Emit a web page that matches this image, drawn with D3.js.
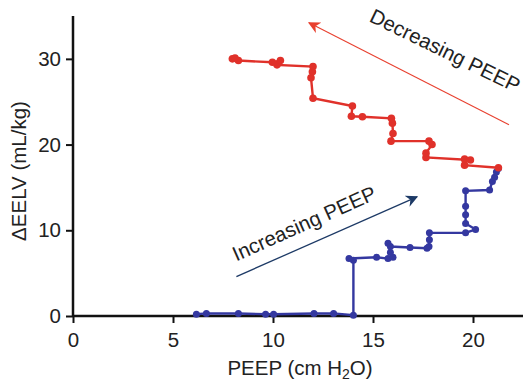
<!doctype html>
<html>
<head>
    <script src="https://d3js.org/d3.v7.min.js"></script>
    <style>
        body { margin: 0; background: #fff; }
        text { font-family: "Liberation Sans", Arial, sans-serif; fill: #222; }
    </style>
</head>
<body>
    <svg width="523" height="384"></svg>
    <script>
        // increasing PEEP (blue)
        var incX = [6.17, 6.67, 8.27, 9.63, 10.03, 12.05, 13.03, 14.02, 14.02, 13.8, 15.18, 15.75, 16.0, 15.87, 15.75, 15.87, 16.85, 17.7, 17.8, 17.82, 17.82, 19.63, 20.13, 19.63, 19.63, 19.63, 19.63, 20.83, 20.97, 21.08, 21.17, 21.27];
        var incY = [0.2, 0.3, 0.3, 0.2, 0.2, 0.3, 0.3, 0.1, 6.5, 6.7, 6.85, 6.7, 6.85, 7.4, 8.5, 8.1, 8.0, 7.9, 8.1, 8.9, 9.7, 9.7, 10.1, 10.8, 11.8, 12.8, 14.6, 14.7, 15.7, 16.2, 16.8, 17.2];

        // decreasing PEEP (red)
        var decX = [21.27, 19.58, 19.58, 19.87, 17.65, 17.65, 17.95, 17.8, 15.9, 16.0, 15.97, 15.92, 14.47, 13.92, 13.97, 12.0, 11.9, 11.97, 12.0, 10.2, 10.37, 9.97, 8.27, 7.97, 8.1];
        var decY = [17.3, 17.6, 18.3, 18.2, 18.5, 19.0, 20.0, 20.4, 20.4, 21.3, 22.5, 23.06, 23.25, 23.3, 24.5, 25.4, 27.8, 28.5, 29.1, 29.3, 29.8, 29.6, 29.8, 30.0, 30.1];

        var xTicks = [0, 5, 10, 15, 20];
        var yTicks = [0, 10, 20, 30];

        var svg = d3.select("svg");
        var x = d3.scaleLinear().domain([0, 22.5]).range([73, 523]);
        var y = d3.scaleLinear().domain([0, 35]).range([316, 16]);

        var red = "#e0312a", blue = "#3438a0";

        var inc = incX.map(function(d, i) { return [d, incY[i]]; });
        var dec = decX.map(function(d, i) { return [d, decY[i]]; });

        var line = d3.line().x(function(d) { return x(d[0]); }).y(function(d) { return y(d[1]); });

        // arrows
        var defs = svg.append("defs");
        function marker(id, color) {
            defs.append("marker").attr("id", id)
                .attr("viewBox", "0 0 10 10").attr("refX", 9).attr("refY", 5)
                .attr("markerWidth", 12).attr("markerHeight", 12).attr("markerUnits", "userSpaceOnUse")
                .attr("orient", "auto")
                .append("path").attr("d", "M0,0 L10,5 L0,10 L3,5 Z").attr("fill", color);
        }
        marker("ar", "#e8402f");
        marker("ab", "#1d3a66");

        svg.append("line")
            .attr("x1", x(21.8)).attr("y1", y(22.3))
            .attr("x2", x(11.8)).attr("y2", y(34.2))
            .attr("stroke", "#e8402f").attr("stroke-width", 1.1)
            .attr("marker-end", "url(#ar)");
        svg.append("line")
            .attr("x1", x(8.17)).attr("y1", y(4.6))
            .attr("x2", x(17.2)).attr("y2", y(13.9))
            .attr("stroke", "#1d3a66").attr("stroke-width", 1.3)
            .attr("marker-end", "url(#ab)");

        svg.append("text")
            .attr("transform", "translate(442,57) rotate(26)")
            .attr("text-anchor", "middle").attr("font-size", "20.5px")
            .text("Decreasing PEEP");
        svg.append("text")
            .attr("transform", "translate(307,230) rotate(-24)")
            .attr("text-anchor", "middle").attr("font-size", "20.5px")
            .text("Increasing PEEP");

        // axes
        var xAxis = svg.append("g").attr("transform", "translate(0,316)")
            .call(d3.axisBottom(x).tickValues(xTicks).tickSize(7).tickPadding(9));
        var yAxis = svg.append("g").attr("transform", "translate(73,0)")
            .call(d3.axisLeft(y).tickValues(yTicks).tickSize(7).tickPadding(5));
        [xAxis, yAxis].forEach(function(a) {
            a.select(".domain").attr("stroke", "#111").attr("stroke-width", 2.5);
            a.selectAll(".tick line").attr("stroke", "#111").attr("stroke-width", 2);
            a.selectAll(".tick text").attr("font-size", "20.5px")
                .attr("font-family", "Liberation Sans, Arial, sans-serif").attr("fill", "#222");
        });
        xAxis.select(".domain").attr("d", "M73,0H523");
        yAxis.select(".domain").attr("d", "M0,16V316");

        // series
        svg.append("path").datum(inc).attr("d", line)
            .attr("fill", "none").attr("stroke", blue).attr("stroke-width", 2.4);
        svg.append("path").datum(dec).attr("d", line)
            .attr("fill", "none").attr("stroke", red).attr("stroke-width", 2.4);

        svg.selectAll(".pi").data(inc).enter().append("circle")
            .attr("cx", function(d) { return x(d[0]); }).attr("cy", function(d) { return y(d[1]); })
            .attr("r", 3.5).attr("fill", blue);
        svg.selectAll(".pd").data(dec).enter().append("circle")
            .attr("cx", function(d) { return x(d[0]); }).attr("cy", function(d) { return y(d[1]); })
            .attr("r", 3.8).attr("fill", red);

        // axis titles
        var xl = svg.append("text").attr("x", 300).attr("y", 375)
            .attr("text-anchor", "middle").attr("font-size", "20.5px");
        xl.append("tspan").text("PEEP (cm H");
        xl.append("tspan").attr("font-size", "14px").attr("dy", 4).text("2");
        xl.append("tspan").attr("dy", -4).text("O)");

        svg.append("text")
            .attr("transform", "translate(26,171) rotate(-90)")
            .attr("text-anchor", "middle").attr("font-size", "20.5px")
            .text("\u0394EELV (mL/kg)");
    </script>
</body>
</html>
